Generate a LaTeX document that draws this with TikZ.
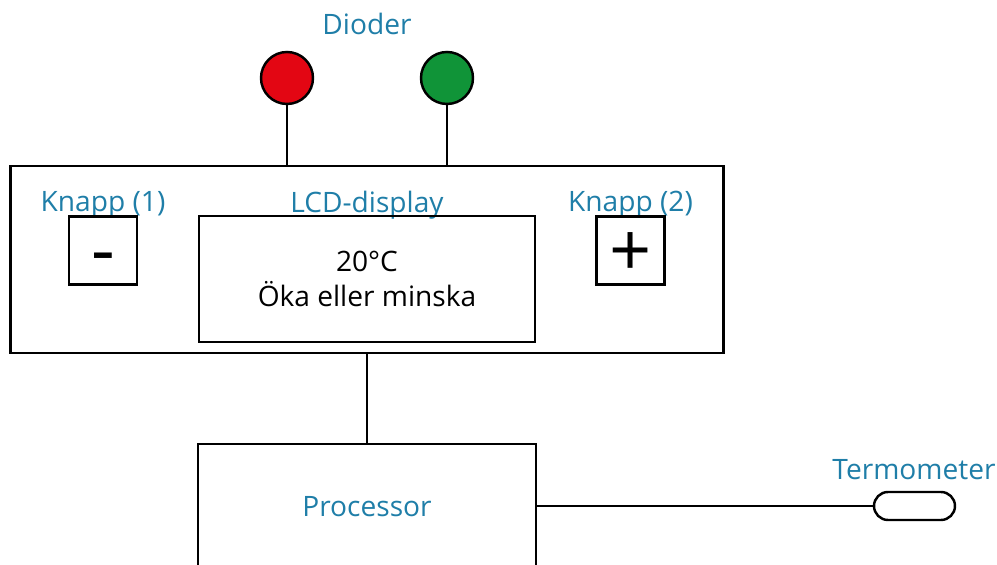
\documentclass[tikz,border=0pt]{standalone}
\usepackage{fontspec}
\setmainfont{Open Sans}
\usepackage{xcolor}
\usetikzlibrary{positioning}
\definecolor{labelblue}{RGB}{31,126,168}
\definecolor{ledred}{RGB}{227,6,19}
\definecolor{ledgreen}{RGB}{16,148,56}
\tikzset{
    box/.style={draw, line width=1.4pt, inner sep=0pt},
    label/.style={text=labelblue, font=\fontsize{16}{19}\selectfont, inner sep=0pt},
    diode/.style={circle, draw, line width=1.4pt, minimum size=1.04cm, inner sep=0pt},
    keybox/.style={box, minimum size=1.36cm, font=\fontsize{42}{42}\selectfont},
    probe/.style={draw, line width=1.4pt, rounded corners=0.28cm, minimum width=1.62cm, minimum height=0.56cm, inner sep=0pt},
    wire/.style={line width=1.4pt}
}
\begin{document}
\begin{tikzpicture}
    \clip (0,0) rectangle (19.94,11.3);
    \useasboundingbox (0,0) rectangle (19.94,11.3);
    % panel
    \node[box, minimum width=14.26cm, minimum height=3.74cm] (panel) at (7.34,6.11) {};
    \node[label] (dlabel) at (7.34,10.82) {Dioder};
    \node[diode, fill=ledred]   (red) at (5.74,9.74) {};
    \node[diode, fill=ledgreen] (green) at (8.94,9.74) {};
    \draw[wire] (red) -- (red |- panel.north);
    \draw[wire] (green) -- (green |- panel.north);
    \node[label] (k1label) at (2.06,7.2) {Knapp (1)};
    \node[keybox] (minus) at (2.06,6.29) {\raisebox{-0.5cm}[0pt][0pt]{-}};
    \node[label] (lcdlabel) at (7.34,7.2) {LCD-display};
    \node[box, minimum width=6.72cm, minimum height=2.52cm, align=center,
          font=\fontsize{16}{19.5}\selectfont] (lcd) at (7.34,5.72) {20°C\\Öka eller minska};
    \node[label] (k2label) at (12.61,7.2) {Knapp (2)};
    \node[keybox] (plus) at (12.61,6.29) {\raisebox{-0.52cm}[0pt][0pt]{+}};
    % processor and probe
    \node[box, minimum width=6.76cm, minimum height=2.52cm, text=labelblue,
          font=\fontsize{16}{19}\selectfont] (proc) at (7.34,1.16) {Processor};
    \draw[wire] (panel.south) -- (proc.north);
    \node[probe] (probe) at (18.29,1.18) {};
    \node[label] (plabel) at (18.28,1.9) {Termometer};
    \draw[wire] (proc.east |- probe) -- (probe);
\end{tikzpicture}
\end{document}
